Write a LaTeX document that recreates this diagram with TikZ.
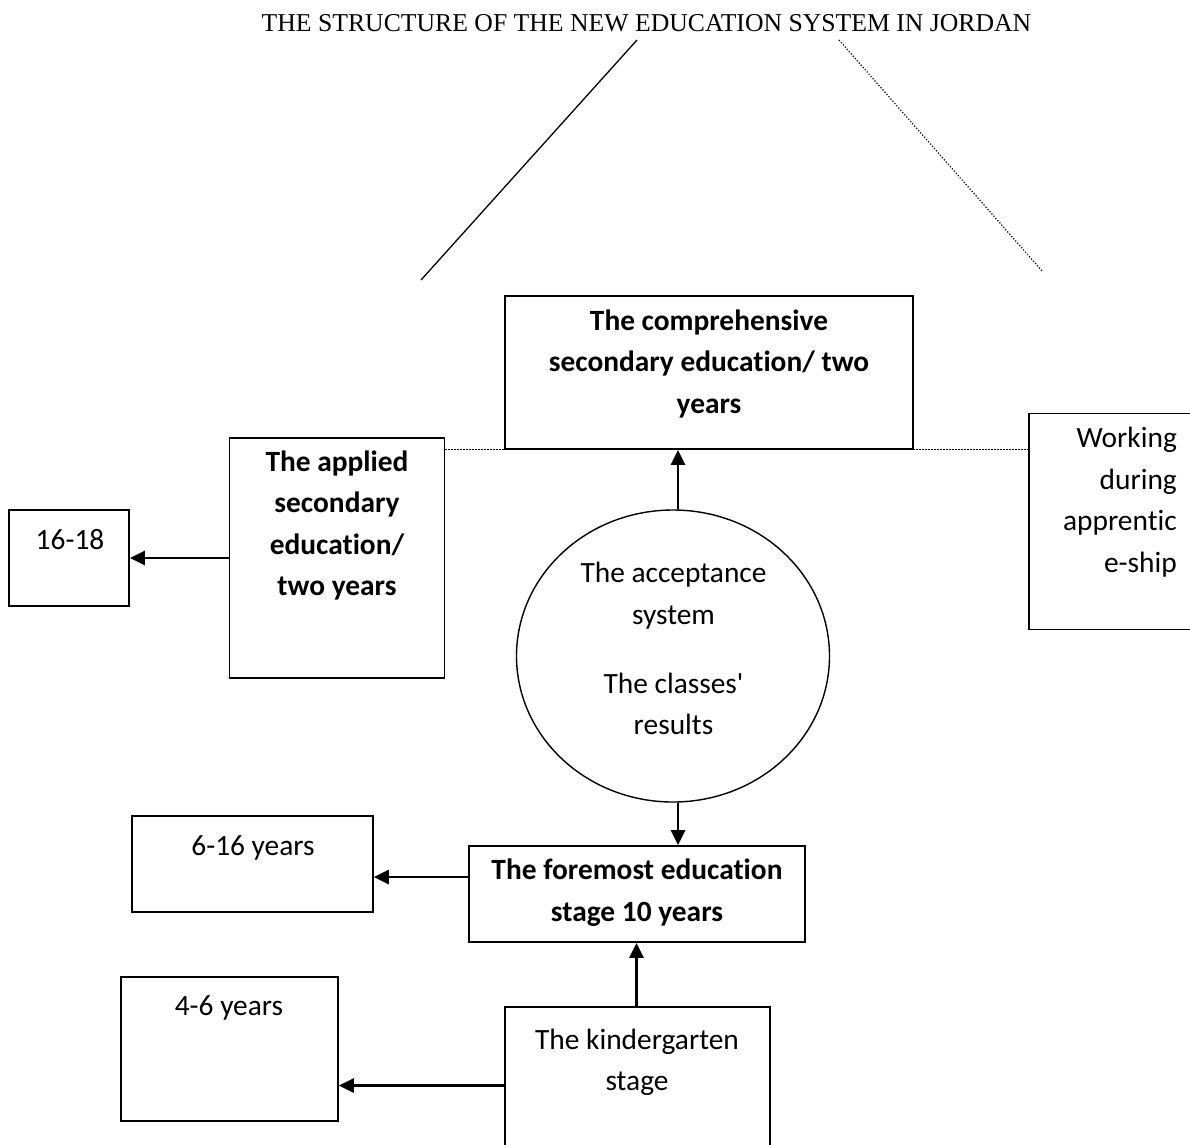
\documentclass[tikz,border=0pt]{standalone}
\usepackage{fontspec}
\setmainfont{Carlito}[Ligatures=NoCommon]
\newfontfamily\titlefont{Liberation Serif}
\usetikzlibrary{arrows.meta,shapes.geometric}
\newcommand{\ystrut}{\rule[-12.5pt]{0pt}{41.5pt}}
\begin{document}
\begin{tikzpicture}[x=1pt,y=-1pt,
  box/.style={draw, line width=1.7pt, rectangle, inner sep=0pt},
  txt/.style={inner sep=0pt, align=center, font=\fontsize{29.4}{41.5}\selectfont,
    execute at begin node=\ystrut, execute at end node=\ystrut},
  txtb/.style={txt, font=\fontsize{29.4}{41.5}\selectfont\bfseries},
  arr/.style={line width=2.8pt, -{Triangle[length=15pt,width=14pt]}},
  dots/.style={line width=1.2pt, dash pattern=on 1.2pt off 1.8pt}]
\useasboundingbox (0,0) rectangle (1190,1144);
\clip (0,0) rectangle (1190,1144);

\node[inner sep=0pt, anchor=base, font=\titlefont\fontsize{25.7}{30}\selectfont] (title) at (646.5,31) {THE STRUCTURE OF THE NEW EDUCATION SYSTEM IN JORDAN};
\coordinate (s1) at (637,40);
\coordinate (s2) at (421,280);
\coordinate (d1) at (839,40);
\coordinate (d2) at (1043,272);

\node[box, minimum width=408pt, minimum height=153pt] (comp) at (709,372.5) {};
\node[box, minimum width=215pt, minimum height=240pt] (app) at (337,558) {};
\node[box, minimum width=120pt, minimum height=96pt] (age1) at (69,558) {};
\node[box, minimum width=211pt, minimum height=216pt] (work) at (1134.5,521.5) {};
\node[draw, ellipse, line width=1.4pt, minimum width=313pt, minimum height=292pt, inner sep=0pt] (circ) at (673,656) {};
\node[box, minimum width=336pt, minimum height=96pt] (fore) at (637,894) {};
\node[box, minimum width=241pt, minimum height=96pt] (age2) at (252.5,864) {};
\node[box, minimum width=265pt, minimum height=157pt] (kind) at (637.5,1085.5) {};
\node[box, minimum width=217pt, minimum height=144pt] (age3) at (229.5,1049) {};

\node[txtb] (comptxt) at (709,367.5) {The comprehensive\\secondary education/ two\\years};
\node[txtb] (apptxt) at (337,529.5) {The applied\\secondary\\education/\\two years};
\node[txt] (age1txt) at (70,541) {16-18};
\node[txt, align=right, anchor=east] (worktxt) at (1177,506) {Working\\during\\apprentic\\e-ship};
\node[txt] (circtxt) at (673.5,654.75) {The acceptance\\system\\[27.5pt]The classes\textquotesingle\\results};
\node[txtb] (foretxt) at (637,896.5) {The foremost education\\stage 10 years};
\node[txt] (age2txt) at (253,847) {6-16 years};
\node[txt] (kindtxt) at (637,1066) {The kindergarten\\stage};
\node[txt] (age3txt) at (229,1007) {4-6 years};

\path[draw,line width=1.3pt] (s1) -- (s2);
\path[draw,dots] (d1) -- (d2);
\path[draw,dots] (app.east |- comp.south) -- (work.west |- comp.south);
\path[draw,arr] ([xshift=5pt]circ.north) -- ([xshift=5pt]circ.north |- comp.south);
\path[draw,arr] ([xshift=5pt]circ.south) -- ([xshift=5pt]circ.south |- fore.north);
\path[draw,arr] ([xshift=-1pt]kind.north) -- ([xshift=-1pt]kind.north |- fore.south);
\path[draw,arr] (app.west) -- (app.west -| age1.east);
\path[draw,arr] ([yshift=17pt]fore.west) -- ([yshift=17pt]fore.west -| age2.east);
\path[draw,arr] (kind.west) -- (kind.west -| age3.east);
\end{tikzpicture}
\end{document}
